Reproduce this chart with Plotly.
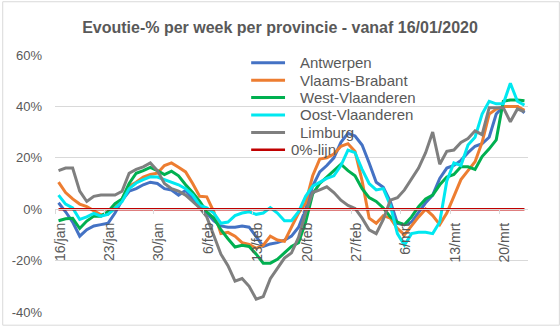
import plotly.graph_objects as go

days = list(range(67))  # day index, 0 = 16/jan
tick_days = [0, 7, 14, 21, 28, 35, 42, 49, 56, 63]
tick_labels = ["16/jan", "23/jan", "30/jan", "6/feb", "13/feb", "20/feb",
               "27/feb", "6/mrt", "13/mrt", "20/mrt"]

antwerpen = [2.5, -1, -5, -10.5, -8, -6.5, -6, -5.5, -1.5, 3.5,
             7, 8, 9.5, 10.5, 10, 8, 7.5, 5.5, 7.3, 4,
             1, -1.5, -4.5, -6.5, -7, -7, -6.5, -7, -11, -14.5,
             -13.5, -13, -12, -10.5, -7, 0, 9, 14.5, 17, 20,
             26, 29.5, 28.5, 25, 18, 10.5, 8.5, 3, -5.5, -6,
             -5, -1, 2.5, 5.5, 12, 16, 17, 19, 22, 24.5,
             25.5, 28, 37, 40, 40, 40, 37.5]
vlaams_brabant = [10.5, 6.5, 4, 2, 1, -0.5, -2.2, -2, 0.5, 4,
                  9, 10.5, 12.5, 13.5, 14, 17, 18, 16.3, 14.5, 10,
                  5, 4.8, -1, -9.5, -9, -10.5, -13, -13.7, -15.2, -14,
                  -10.5, -12, -12.5, -7, -1.5, 2.4, 13, 19.5, 20, 21.5,
                  24.5, 25.5, 22.5, 11, -3.5, -5.5, -2.5, -3.5, -7.5, -10,
                  -6.5, -3, 0, -2.5, -6, -1.5, 5, 11.5, 15, 18.5,
                  26, 37, 39, 40, 40, 40, 38.5]
west_vlaanderen = [-4.5, -3.7, -3.5, -7.5, -4.6, -2.7, -2.7, -1, 2.2, 4,
                   10, 14, 15, 16.3, 15, 13.5, 14.8, 13, 9.5, 6.5,
                   3, -1, -3.5, -8, -11.5, -14.7, -14, -14.5, -17.5, -21,
                   -21, -19.5, -17, -14.5, -13, -5, 6, 10, 12.5, 15,
                   17.5, 15, 13, 8, 4.5, 3, 0.5, -3, -5, -6,
                   -3, 1, 4, 5.5, 9.5, 12.5, 13.5, 16.5, 16.5, 15.5,
                   20.5, 23.5, 27, 42, 42.5, 42.5, 42.2]
oost_vlaanderen = [5.5, 2, 0.5, -4, -3, -1.6, -2.7, -2, 0.3, 3,
                   8, 10.2, 11.5, 12.6, 12.5, 11.5, 10.5, 9.5, 8, 5.5,
                   1.5, 0.5, -1.5, -5.5, -5, -2.5, -1.5, -1, -2, -1.5,
                   0.6, -1.5, -4.5, -4.5, -1, 5, 9, 10.5, 12, 13,
                   17, 23, 22, 15.5, 10, 7.5, 8, 1.5, -9.5, -14,
                   -9.5, -9, -9, -9.5, -5, 11, 18, 17, 25, 28,
                   37, 42, 41, 41, 49, 42, 40.5]
limburg = [15, 16, 16, 7, 3, 5, 5.5, 5.5, 5.5, 7,
           14, 15.5, 16.5, 18, 15, 10, 8, 7, 5.5, 3,
           0.5, -3, -10.5, -17.5, -22, -28, -27, -30, -35, -34,
           -27, -23, -19, -17, -11, -1.4, 6.5, 7.5, 8.7, 6.5,
           3.5, 1.5, 0.3, -3.5, -8, -9.5, -4, 3.5, 4.5, 7.5,
           11.5, 16, 22, 30, 17.5, 22.5, 23, 26, 27.5, 30.5,
           29, 39.5, 39.5, 39.5, 34, 39, 38]
nul_lijn = [0] * 67

series_names = ["Antwerpen", "Vlaams-Brabant", "West-Vlaanderen",
                "Oost-Vlaanderen", "Limburg", "0%-lijn"]
series_values = [antwerpen, vlaams_brabant, west_vlaanderen,
                 oost_vlaanderen, limburg, nul_lijn]
series_colors = ["#4472C4", "#ED7D31", "#00B050", "#00E8F0", "#7F7F7F", "#C00000"]
series_widths = [3, 3, 3, 3, 3, 2.5]

FONT = "Liberation Sans, Arial, sans-serif"
TXT = "#595959"

W, H = 560, 332
ml, mr, mt, mb = 53, 32, 55, 14
pw, ph = W - ml - mr, H - mt - mb


def px_x(px):
    return (px - ml) / pw


def px_y(py):
    return (H - mb - py) / ph


fig = go.Figure()
for name, vals, color, w in zip(series_names, series_values, series_colors, series_widths):
    fig.add_trace(go.Scatter(x=days, y=vals, mode="lines", name=name,
                             line=dict(color=color, width=w), showlegend=False))

fig.update_layout(
    width=W, height=H,
    margin=dict(l=ml, r=mr, t=mt, b=mb, pad=0),
    paper_bgcolor="white", plot_bgcolor="white",
    font=dict(family=FONT, color=TXT),
    title=dict(text="<b>Evoutie-% per week per provincie - vanaf 16/01/2020</b>",
               x=280 / W, xanchor="center", xref="container",
               y=1 - 27 / H, yanchor="middle", yref="container",
               font=dict(size=16, color=TXT, family=FONT)),
    showlegend=False,
    xaxis=dict(range=[-0.5, 66.5], anchor="free", position=0.4,
               tickvals=[d - 0.5 for d in tick_days], ticktext=tick_labels,
               tickangle=-90, ticks="outside", ticklen=4, tickcolor="#D9D9D9",
               ticklabelshift=5, ticklabelstandoff=3,
               tickfont=dict(size=14, color=TXT, family=FONT),
               showgrid=False, zeroline=False,
               showline=True, linecolor="#D9D9D9", linewidth=1),
    yaxis=dict(range=[-40, 60], tickvals=[-40, -20, 0, 20, 40, 60],
               ticktext=["-40%", "-20%", "0%", "20%", "40%", "60%"],
               tickfont=dict(size=13, color=TXT, family=FONT),
               showgrid=True, gridcolor="#D9D9D9", gridwidth=1,
               zeroline=False, showline=False, ticks="", ticklabelstandoff=12),
)

# manual legend (Excel-like spacing)
leg_y0, leg_dy = 63, 17.8
for i, (name, color, w) in enumerate(zip(series_names, series_colors, series_widths)):
    py = leg_y0 + i * leg_dy
    fig.add_shape(type="line", xref="paper", yref="paper",
                  x0=px_x(250), x1=px_x(284), y0=px_y(py), y1=px_y(py),
                  line=dict(color=color, width=w))
    tx = 288 if name == "0%-lijn" else 297
    fig.add_annotation(text=name, xref="paper", yref="paper",
                       x=px_x(tx), y=px_y(py), xanchor="left", yanchor="middle",
                       showarrow=False, font=dict(size=15, color=TXT, family=FONT))

# chart border
fig.add_shape(type="rect", xref="paper", yref="paper",
              x0=px_x(0.5), x1=px_x(W - 0.5), y0=px_y(H - 0.5), y1=px_y(0.5),
              line=dict(color="#D9D9D9", width=1), layer="below")

fig.write_html("out.html")
